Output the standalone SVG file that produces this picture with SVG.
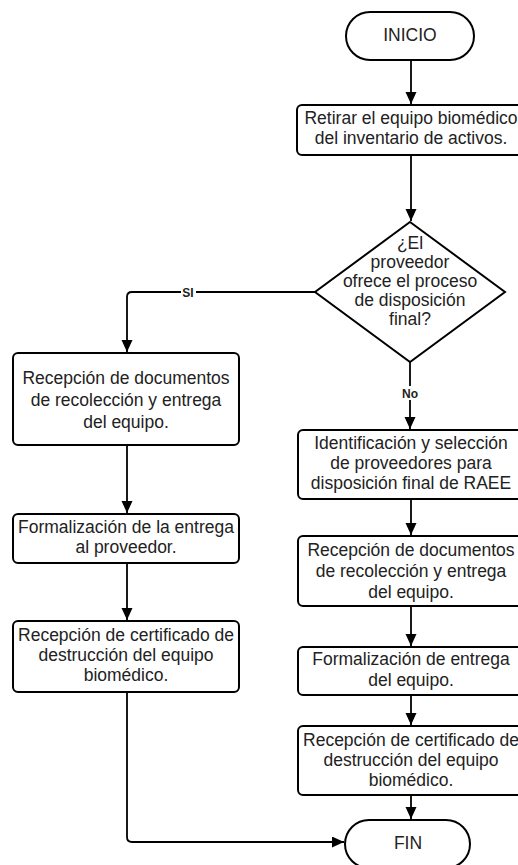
<svg xmlns="http://www.w3.org/2000/svg" width="518" height="865" viewBox="0 0 518 865">
<style>
.s{fill:#fff;stroke:#000;stroke-width:2}
.t{font-family:"Liberation Sans",Arial,sans-serif;font-size:17.5px;fill:#222;text-anchor:middle}
.c{fill:none;stroke:#000;stroke-width:1.8}
.l{font-family:"Liberation Sans",Arial,sans-serif;font-size:12px;font-weight:bold;fill:#222;text-anchor:middle}
</style>
<defs>
<marker id="a" markerUnits="userSpaceOnUse" markerWidth="13" markerHeight="12" refX="12" refY="5.5" orient="auto">
<path d="M0,0 L12,5.5 L0,11 Z" fill="#000"/>
</marker>
</defs>
<g id="connectors">
<path class="c" d="M411 60 V104" marker-end="url(#a)"/>
<path class="c" d="M411 155 V221" marker-end="url(#a)"/>
<path class="c" d="M315 292 H132 Q127 292 127 297 V352" marker-end="url(#a)"/>
<path class="c" d="M410 362 V429" marker-end="url(#a)"/>
<path class="c" d="M127 445 V513" marker-end="url(#a)"/>
<path class="c" d="M127 563 V620" marker-end="url(#a)"/>
<path class="c" d="M127 692 V837 Q127 842 132 842 H344" marker-end="url(#a)"/>
<path class="c" d="M411 499 V535" marker-end="url(#a)"/>
<path class="c" d="M411 606 V646" marker-end="url(#a)"/>
<path class="c" d="M411 695 V725" marker-end="url(#a)"/>
<path class="c" d="M411 795 V819" marker-end="url(#a)"/>
<rect x="181" y="285" width="15" height="14" fill="#fff"/>
<text class="l" x="188" y="296.5">SI</text>
<rect x="401" y="386" width="18" height="14" fill="#fff"/>
<text class="l" x="410" y="397.5">No</text>
</g>
<g id="inicio">
<rect class="s" x="346" y="12" width="128" height="48" rx="24"/>
<text class="t" x="410" y="41">INICIO</text>
</g>
<g id="retirar">
<rect class="s" x="297" y="105" width="228" height="50" rx="5"/>
<text class="t" x="411" y="123.5">Retirar el equipo biomédico</text>
<text class="t" x="411" y="143.5">del inventario de activos.</text>
</g>
<g id="decision">
<path class="s" d="M410 222 L505 292 L410 362 L315 292 Z"/>
<text class="t" x="410" y="249">¿El</text>
<text class="t" x="410" y="268">proveedor</text>
<text class="t" x="410" y="287">ofrece el proceso</text>
<text class="t" x="410" y="306">de disposición</text>
<text class="t" x="410" y="325">final?</text>
</g>
<g id="left1">
<rect class="s" x="13" y="353" width="226" height="92" rx="5"/>
<text class="t" x="126" y="384">Recepción de documentos</text>
<text class="t" x="126" y="406">de recolección y entrega</text>
<text class="t" x="126" y="428">del equipo.</text>
</g>
<g id="left2">
<rect class="s" x="13" y="514" width="226" height="49" rx="5"/>
<text class="t" x="126" y="533">Formalización de la entrega</text>
<text class="t" x="126" y="553">al proveedor.</text>
</g>
<g id="left3">
<rect class="s" x="13" y="621" width="226" height="71" rx="5"/>
<text class="t" x="126" y="641">Recepción de certificado de</text>
<text class="t" x="126" y="661">destrucción del equipo</text>
<text class="t" x="126" y="681">biomédico.</text>
</g>
<g id="right1">
<rect class="s" x="298" y="430" width="228" height="69" rx="5"/>
<text class="t" x="411" y="449">Identificación y selección</text>
<text class="t" x="411" y="469">de proveedores para</text>
<text class="t" x="411" y="489">disposición final de RAEE</text>
</g>
<g id="right2">
<rect class="s" x="298" y="536" width="228" height="70" rx="5"/>
<text class="t" x="411" y="556">Recepción de documentos</text>
<text class="t" x="411" y="577">de recolección y entrega</text>
<text class="t" x="411" y="598">del equipo.</text>
</g>
<g id="right3">
<rect class="s" x="298" y="647" width="228" height="48" rx="5"/>
<text class="t" x="411" y="665">Formalización de entrega</text>
<text class="t" x="411" y="686">del equipo.</text>
</g>
<g id="right4">
<rect class="s" x="298" y="726" width="228" height="69" rx="5"/>
<text class="t" x="411" y="746">Recepción de certificado de</text>
<text class="t" x="411" y="766">destrucción del equipo</text>
<text class="t" x="411" y="786">biomédico.</text>
</g>
<g id="fin">
<rect class="s" x="345" y="820" width="125" height="48" rx="24"/>
<text class="t" x="408" y="849">FIN</text>
</g>
</svg>
